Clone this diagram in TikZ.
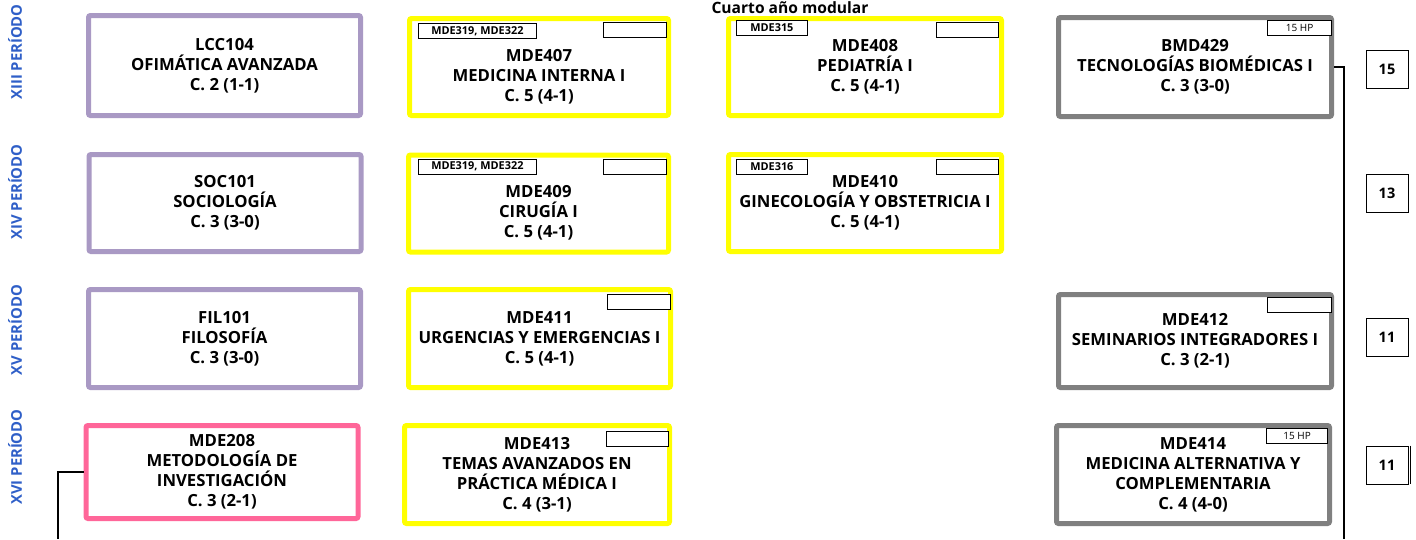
\documentclass[tikz,border=0pt]{standalone}
\usepackage{fontspec}
\setmainfont{Open Sans}
\usepackage{tikz}
\definecolor{lila}{HTML}{A999C4}
\definecolor{rosa}{HTML}{FF6699}
\definecolor{amarillo}{HTML}{FFFF00}
\definecolor{gris}{HTML}{808080}
\definecolor{azul}{HTML}{2F5FC8}

\begin{document}
\begin{tikzpicture}[x=1pt,y=-1pt,
  curso/.style={draw=#1,line width=5pt,rounded corners=2pt,minimum width=272pt,
    minimum height=97pt,inner sep=0pt,align=center,font=\bfseries\fontsize{16.7}{20}\selectfont},
  etiq/.style={draw,line width=0.8pt,fill=white,minimum height=15pt,inner sep=0pt,
    font=\bfseries\fontsize{10.9}{12}\selectfont},
  hp/.style={font=\fontsize{10}{11}\selectfont},
  periodo/.style={rotate=90,text=azul,font=\bfseries\fontsize{14.8}{16}\selectfont},
  num/.style={draw,line width=0.8pt,minimum width=42pt,minimum height=38pt,
    font=\bfseries\fontsize{14.5}{16}\selectfont},
  conector/.style={line width=1.5pt}]
\path[use as bounding box,fill=white] (0,0) rectangle (1416,539);

\node[periodo] (p13) at (15,52) {XIII PERÍODO};
\node[periodo] (p14) at (15,192) {XIV PERÍODO};
\node[periodo] (p15) at (15,330) {XV PERÍODO};
\node[periodo] (p16) at (15,457) {XVI PERÍODO};
\node[font=\bfseries\fontsize{15.6}{17}\selectfont] (titulo) at (790,8) {Cuarto año modular};

\node[curso=lila,minimum height=100pt] (lcc104) at (224.5,65.5) {LCC104\\OFIMÁTICA AVANZADA\\C. 2 (1-1)};
\node[curso=lila] (soc101) at (225,203) {SOC101\\SOCIOLOGÍA\\C. 3 (3-0)};
\node[curso=lila,minimum height=98pt] (fil101) at (224.5,338.5) {FIL101\\FILOSOFÍA\\C. 3 (3-0)};
\node[curso=rosa,minimum height=93pt] (mde208) at (222,472) {MDE208\\METODOLOGÍA DE\\INVESTIGACIÓN\\C. 3 (2-1)};

\node[curso=amarillo,minimum width=259pt] (mde407) at (539,67) {\rule{0pt}{32pt}MDE407\\MEDICINA INTERNA I\\C. 5 (4-1)};
\node[curso=amarillo,minimum width=260pt] (mde409) at (538.5,203.5) {\rule{0pt}{30pt}MDE409\\CIRUGÍA I\\C. 5 (4-1)};
\node[curso=amarillo,minimum width=262pt,minimum height=98pt] (mde411) at (539.5,338.5) {MDE411\\URGENCIAS Y EMERGENCIAS I\\C. 5 (4-1)};
\node[curso=amarillo,minimum width=265pt,minimum height=98pt] (mde413) at (537,474.5) {MDE413\\TEMAS AVANZADOS EN\\PRÁCTICA MÉDICA I\\C. 4 (3-1)};
\node[curso=amarillo,minimum width=273pt] (mde408) at (865,67) {MDE408\\PEDIATRÍA I\\C. 5 (4-1)};
\node[curso=amarillo,minimum width=273pt] (mde410) at (865,203) {MDE410\\GINECOLOGÍA Y OBSTETRICIA I\\C. 5 (4-1)};

\node[curso=gris,minimum width=273pt,minimum height=99pt] (bmd429) at (1195,67) {BMD429\\TECNOLOGÍAS BIOMÉDICAS I\\C. 3 (3-0)};
\node[curso=gris,minimum width=273pt,minimum height=93pt] (mde412) at (1195,341) {MDE412\\SEMINARIOS INTEGRADORES I\\C. 3 (2-1)};
\node[curso=gris,minimum width=273pt,minimum height=98pt] (mde414) at (1193,474.5) {MDE414\\MEDICINA ALTERNATIVA Y\\COMPLEMENTARIA\\C. 4 (4-0)};

\node[etiq,minimum width=118pt,anchor=north west] (pre407) at ([xshift=11pt,yshift=-7pt]mde407.north west) {MDE319, MDE322};
\node[etiq,minimum width=63pt,anchor=north east] (hp407) at ([xshift=-4pt,yshift=-6pt]mde407.north east) {};
\node[etiq,minimum width=118pt,anchor=north west] (pre409) at ([xshift=12pt,yshift=-6pt]mde409.north west) {MDE319, MDE322};
\node[etiq,minimum width=63pt,anchor=north east] (hp409) at ([xshift=-4pt,yshift=-6pt]mde409.north east) {};
\node[etiq,minimum width=71pt,anchor=north west] (pre408) at ([xshift=10pt,yshift=-4pt]mde408.north west) {MDE315};
\node[etiq,minimum width=62pt,anchor=north east] (hp408) at ([xshift=-5pt,yshift=-6pt]mde408.north east) {};
\node[etiq,minimum width=71pt,anchor=north west] (pre410) at ([xshift=10pt,yshift=-7pt]mde410.north west) {MDE316};
\node[etiq,minimum width=62pt,anchor=north east] (hp410) at ([xshift=-5pt,yshift=-7pt]mde410.north east) {};
\node[etiq,minimum width=63pt,anchor=north east] (hp411) at ([xshift=-2pt,yshift=-7pt]mde411.north east) {};
\node[etiq,minimum width=62pt,anchor=north east] (hp413) at ([xshift=-3pt,yshift=-8pt]mde413.north east) {};
\node[etiq,hp,minimum width=64pt,anchor=north east] (hp429) at ([xshift=-2pt,yshift=-5pt]bmd429.north east) {15 HP};
\node[etiq,minimum width=64pt,anchor=north east] (hp412) at ([xshift=-2pt,yshift=-5pt]mde412.north east) {};
\node[etiq,hp,minimum width=61pt,anchor=north east] (hp414) at ([xshift=-4pt,yshift=-5pt]mde414.north east) {15 HP};

\node[num] (c13) at (1387,69) {15};
\node[num] (c14) at (1387,193.5) {13};
\node[num] (c15) at (1387,337.5) {11};
\node[num] (c16) at (1387,465) {11};
\draw[line width=0.8pt] ([xshift=2pt]c16.north east) -- ([xshift=2pt]c16.south east);

\coordinate (finD) at (1344,539);
\coordinate (finI) at (58,539);
\draw[conector] (bmd429.east) -| (finD);
\draw[conector] (mde208.west) -| (finI);
\end{tikzpicture}
\end{document}
